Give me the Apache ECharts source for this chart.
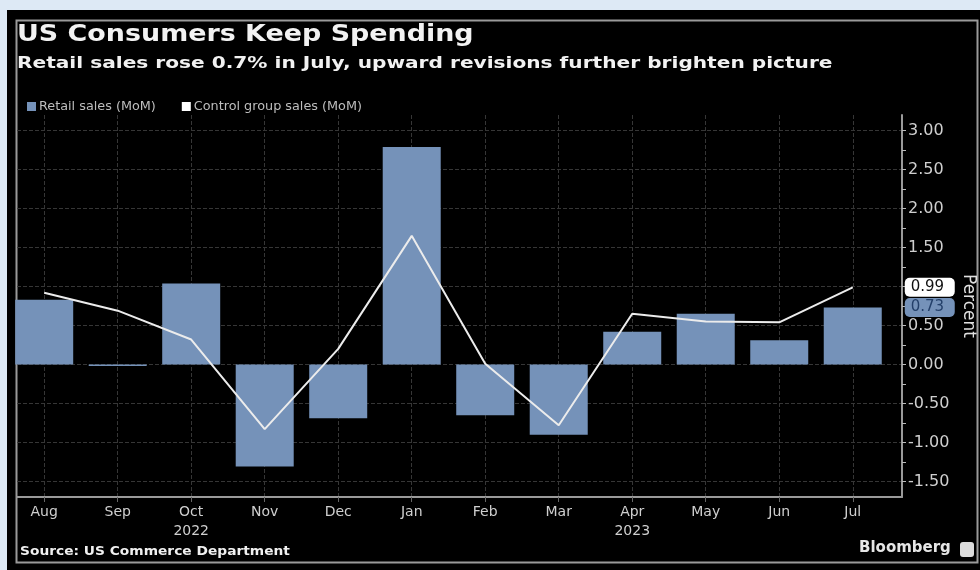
<!DOCTYPE html>
<html>
<head>
<meta charset="utf-8">
<script src="https://cdn.jsdelivr.net/npm/echarts@6/dist/echarts.min.js"></script>
<style>
html,body{margin:0;padding:0;background:#dde9f5;}
#chart{width:980px;height:570px;}
</style>
</head>
<body>
<div id="chart"></div>
<script>
var months = ['Aug','Sep','Oct','Nov','Dec','Jan','Feb','Mar','Apr','May','Jun','Jul'];
var yearLabels = {2: '2022', 8: '2023'};
var retailSales = [0.83, -0.02, 1.04, -1.31, -0.69, 2.79, -0.65, -0.90, 0.42, 0.65, 0.31, 0.73];
var controlGroup = [0.92, 0.69, 0.32, -0.83, 0.20, 1.65, 0.01, -0.78, 0.65, 0.55, 0.54, 0.99];
var yTicks = [-1.5, -1.0, -0.5, 0, 0.5, 1.0, 1.5, 2.0, 2.5, 3.0];
var yMinorTicks = [-1.5,-1.25,-1.0,-0.75,-0.5,-0.25,0,0.25,0.5,0.75,1.0,1.25,1.5,1.75,2.0,2.25,2.5,2.75,3.0];

var xIdx = months.map(function(m, i){ return i; });
var barColor = '#7592b9';
var lineColor = '#ececec';
var font = 'DejaVu Sans';

var chart = echarts.init(document.getElementById('chart'), null, {renderer: 'canvas'});
var last = months.length - 1;

var barData = retailSales.map(function(v, i){
  var d = {value: [i, v]};
  if (i === last) {
    d.label = {
      show: true, position: [81, 0], align: 'left', verticalAlign: 'middle',
      formatter: function(p){ return p.value[1].toFixed(2); },
      backgroundColor: barColor, color: '#24406a', fontSize: 15, fontFamily: font,
      padding: [2, 6, 2, 6], borderRadius: 5, width: 38
    };
  }
  return d;
});
var lineData = controlGroup.map(function(v, i){ return [i, v]; });

chart.setOption({
  backgroundColor: 'transparent',
  animation: false,
  graphic: [
    {type: 'rect', z: -10, shape: {x: 7, y: 10, width: 973, height: 560}, style: {fill: '#000'}},
    {type: 'rect', z: -9, shape: {x: 16.5, y: 20.5, width: 961, height: 542}, style: {fill: 'none', stroke: '#9a9a9a', lineWidth: 2}},
    {type: 'text', x: 17, y: 24, scaleX: 1.17, style: {text: 'US Consumers Keep Spending', fill: '#f2f2f2', font: 'bold 23px "DejaVu Sans"', textVerticalAlign: 'top'}},
    {type: 'text', x: 17, y: 55, scaleX: 1.22, style: {text: 'Retail sales rose 0.7% in July, upward revisions further brighten picture', fill: '#f2f2f2', font: 'bold 16.5px "DejaVu Sans"', textVerticalAlign: 'top'}},
    {type: 'text', x: 20, y: 545, scaleX: 1.06, style: {text: 'Source: US Commerce Department', fill: '#f0f0f0', font: 'bold 13px "DejaVu Sans"', textVerticalAlign: 'top'}},
    {type: 'text', x: 859, y: 541, style: {text: 'Bloomberg', fill: '#e6e6e6', font: '600 15px "DejaVu Sans"', textVerticalAlign: 'top'}},
    {type: 'rect', shape: {x: 960, y: 542, width: 14, height: 15, r: 3}, style: {fill: '#dcdcdc'}}
  ],
  legend: {
    left: 22, top: 95, itemWidth: 9, itemHeight: 9, itemGap: 26, icon: 'rect',
    textStyle: {color: '#bdbdbd', fontSize: 12.8, fontFamily: font, padding: [0, 0, 0, -2]},
    data: [
      {name: 'Retail sales (MoM)', itemStyle: {color: barColor}},
      {name: 'Control group sales (MoM)', itemStyle: {color: '#ffffff'}}
    ]
  },
  grid: {left: 17, right: 78, top: 115, bottom: 73, containLabel: false, outerBoundsMode: 'none'},
  xAxis: {
    type: 'value', min: -0.37, max: 11.67,
    axisLine: {show: true, onZero: false, lineStyle: {color: '#9a9a9a', width: 2}},
    axisTick: {show: true, customValues: xIdx, length: 5, lineStyle: {color: '#666'}},
    axisLabel: {
      customValues: xIdx, color: '#cfcfcf', fontSize: 14, fontFamily: font, margin: 6, lineHeight: 19,
      formatter: function(v){ var i = Math.round(v); return months[i] + (yearLabels[i] ? '\n' + yearLabels[i] : ''); }
    },
    splitLine: {show: true, lineStyle: {color: '#363636', width: 1, type: [4, 2]}}
  },
  yAxis: [{
    type: 'value', position: 'right', min: -1.7, max: 3.2,
    name: 'Percent', nameLocation: 'middle', nameGap: 52, nameRotate: -90,
    nameTextStyle: {color: '#e0e0e0', fontSize: 17, fontFamily: font},
    axisLine: {show: true, onZero: false, lineStyle: {color: '#9a9a9a', width: 2}},
    axisTick: {show: true, customValues: yTicks, length: 4, lineStyle: {color: '#bbb'}},
    axisLabel: {customValues: yTicks, color: '#cfcfcf', fontSize: 16, fontFamily: font, margin: 6,
      formatter: function(v){ return v.toFixed(2); }},
    splitLine: {show: true, lineStyle: {color: '#363636', width: 1, type: [4, 2]}}
  }, {
    type: 'value', position: 'right', min: -1.7, max: 3.2,
    axisLine: {show: false, onZero: false},
    axisTick: {show: true, customValues: yMinorTicks, length: 4, lineStyle: {color: '#bbb'}},
    axisLabel: {show: false},
    splitLine: {show: false}
  }],
  series: [{
    name: 'Retail sales (MoM)', type: 'bar', barWidth: 58, clip: true,
    itemStyle: {color: barColor}, data: barData, z: 2
  }, {
    name: 'Control group sales (MoM)', type: 'line', symbol: 'none',
    lineStyle: {color: lineColor, width: 2}, itemStyle: {color: '#ffffff'},
    data: lineData, z: 3,
    endLabel: {
      show: true, distance: 0, offset: [52, 0], align: 'left',
      formatter: function(p){ return p.value[1].toFixed(2); },
      backgroundColor: '#ffffff', color: '#111', fontSize: 15, fontFamily: font,
      padding: [2, 6, 2, 6], borderRadius: 5, width: 38
    }
  }]
});
</script>
</body>
</html>
